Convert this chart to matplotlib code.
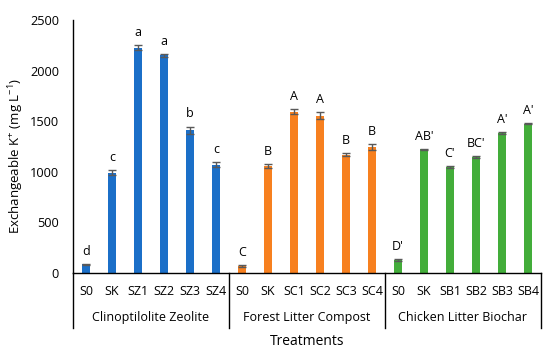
import matplotlib.pyplot as plt
import numpy as np

plt.rcParams['font.family'] = ['Open Sans', 'DejaVu Sans']
plt.rcParams['mathtext.fontset'] = 'custom'
plt.rcParams['mathtext.rm'] = 'Open Sans'
plt.rcParams['mathtext.default'] = 'regular'

groups = ["Clinoptilolite Zeolite", "Forest Litter Compost", "Chicken Litter Biochar"]
treatments = [
    ["S0", "SK", "SZ1", "SZ2", "SZ3", "SZ4"],
    ["S0", "SK", "SC1", "SC2", "SC3", "SC4"],
    ["S0", "SK", "SB1", "SB2", "SB3", "SB4"],
]
values = [
    [80, 990, 2225, 2150, 1410, 1065],
    [65, 1050, 1590, 1550, 1165, 1245],
    [120, 1220, 1045, 1145, 1385, 1475],
]
errors = [
    [8, 25, 25, 15, 35, 25],
    [8, 20, 25, 35, 15, 30],
    [10, 6, 6, 8, 10, 8],
]
letters = [
    ["d", "c", "a", "a", "b", "c"],
    ["C", "B", "A", "A", "B", "B"],
    ["D'", "AB'", "C'", "BC'", "A'", "A'"],
]
colors = ["#1b6fc8", "#f7801f", "#43ad3a"]

fig = plt.figure(figsize=(5.5, 3.54), dpi=100)
ax = fig.add_axes([0.1327, 0.2302, 0.8509, 0.7133])

n = len(treatments[0])
for g in range(len(groups)):
    x = np.arange(n) + g * n
    ax.bar(x, values[g], width=0.32, color=colors[g], zorder=2)
    ax.errorbar(x, values[g], yerr=errors[g], fmt="none", ecolor="#595959",
                elinewidth=1, capsize=3, capthick=1, zorder=3)
    for xi, v, e, lab in zip(x, values[g], errors[g], letters[g]):
        ax.text(xi, v + e + 60, lab, ha="center", va="bottom", fontsize=9)

total = n * len(groups)
ax.set_xlim(-0.5, total - 0.5)
ax.set_ylim(0, 2500)
ax.set_yticks(np.arange(0, 2501, 500))
ax.tick_params(axis="y", length=0, labelsize=9.2, pad=10)
ax.tick_params(axis="x", length=0)
ax.set_xticks([])
for s in ["top", "right"]:
    ax.spines[s].set_visible(False)
ax.spines["left"].set_linewidth(1)
ax.spines["bottom"].set_linewidth(1)

# multi-level category labels
flat = [t for grp in treatments for t in grp]
for i, t in enumerate(flat):
    ax.text(i, -0.075, t, transform=ax.get_xaxis_transform(), ha="center",
            va="center", fontsize=9)
for g, name in enumerate(groups):
    ax.text(g * n + (n - 1) / 2, -0.18, name, transform=ax.get_xaxis_transform(),
            ha="center", va="center", fontsize=9)
for b in range(len(groups) + 1):
    ax.plot([b * n - 0.5, b * n - 0.5], [0, -0.22], transform=ax.get_xaxis_transform(),
            color="black", lw=1, clip_on=False)

fig.text(0.558, 0.035, "Treatments", ha="center", va="center", fontsize=10)
ax.set_ylabel("Exchangeable K$^{+}$ (mg L$^{-1}$)", fontsize=9.5)
ax.yaxis.set_label_coords(-0.1, 0.462)

fig.savefig("out.png", dpi=100)
